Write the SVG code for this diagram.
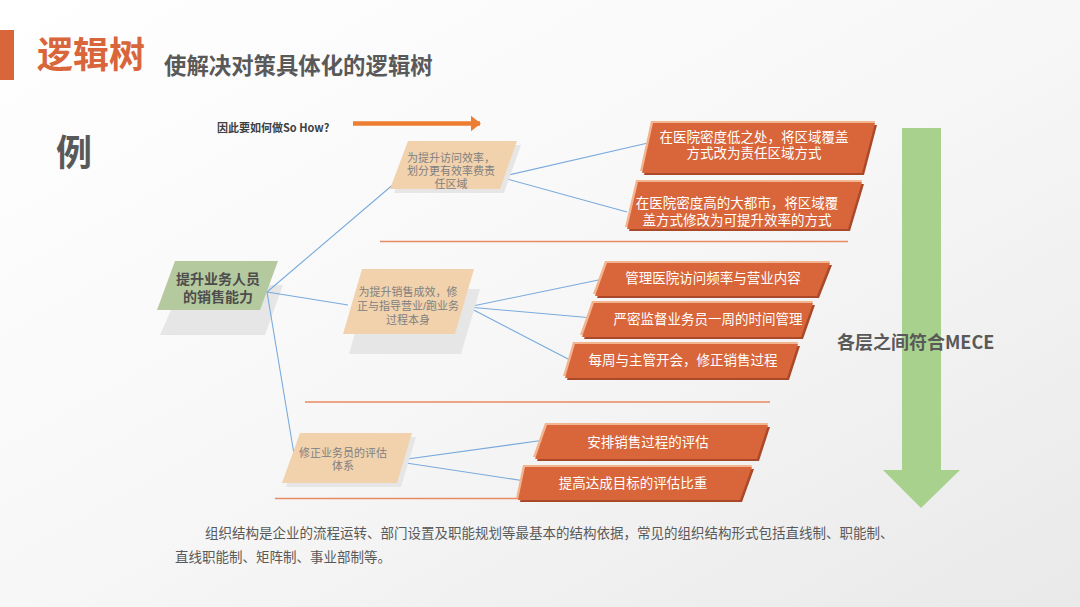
<svg xmlns="http://www.w3.org/2000/svg" width="1080" height="607" viewBox="0 0 1080 607">
<defs>
<linearGradient id="bg" x1="0" y1="0" x2="1" y2="1">
<stop offset="0" stop-color="#ffffff"/>
<stop offset="0.5" stop-color="#f7f7f7"/>
<stop offset="1" stop-color="#e9e9e9"/>
</linearGradient>
<marker id="ah" markerWidth="4" markerHeight="4" refX="2" refY="2" orient="auto" markerUnits="strokeWidth">
<path d="M0,0.3 L2.2,2 L0,3.7 Z" fill="#ed7d31"/>
</marker>
</defs>
<style>
.cjk{font-family:"Noto Sans CJK SC","Liberation Sans",sans-serif}
.ml{font-family:"Liberation Sans","Noto Sans CJK SC",sans-serif}
.l2{fill:#f1d2ad}
.sh{fill:#e6e6e6}
.l3{fill:#d8663a}
.l3hi{fill:#f2b58f}
.l3dk{fill:#a9492a}
.t2{font-size:11px;fill:#808080;text-anchor:middle}
.t3{font-size:13.5px;fill:#ffffff;text-anchor:middle}
.conn line{stroke:#79aadc;stroke-width:1.1}
.sep{stroke:#e88a62;stroke-width:1.6}
</style>
<rect width="1080" height="607" fill="url(#bg)"/>
<rect x="0" y="30" width="14" height="50" fill="#d9663a"/>
<text x="37" y="68" class="cjk" font-size="36" font-weight="bold" fill="#d9663a">逻辑树</text>
<text x="164" y="74" class="cjk" font-size="22.4" font-weight="bold" fill="#595959">使解决对策具体化的逻辑树</text>
<text x="56" y="166" class="cjk" font-size="36" font-weight="bold" fill="#595959">例</text>
<text x="217" y="132" class="cjk" font-size="11" font-weight="bold" fill="#404040">因此要如何做So How?</text>
<line x1="353" y1="123.5" x2="480" y2="123.5" stroke="#ed7d31" stroke-width="4.5" marker-end="url(#ah)"/>

<g id="separators">
<line class="sep" x1="380" y1="241.5" x2="848" y2="241.5"/>
<line class="sep" x1="305" y1="402" x2="770" y2="402"/>
<line class="sep" x1="275" y1="498.5" x2="740" y2="498.5"/>
</g>

<g id="mece">
<path d="M902,128 H941 V470 H960 L921,508 L883,470 H902 Z" fill="#a9d18e"/>
<text x="837" y="349" class="cjk" font-size="18" font-weight="bold" fill="#595959">各层之间符合MECE</text>
</g>

<g id="root">
<polygon class="sh" points="182,285 283,285 265,335 160,335"/>
<polygon points="175,261 278,261 260,310 157,310" fill="#b5c99f"/>
<text class="ml" x="218" y="284" font-size="14" font-weight="bold" fill="#4d4d4d" text-anchor="middle">提升业务人员<tspan x="218" dy="18">的销售能力</tspan></text>
</g>

<g class="conn" id="connectors">
<line x1="267" y1="292" x2="402" y2="177"/>
<line x1="267" y1="292" x2="348" y2="305"/>
<line x1="267" y1="292" x2="295" y2="460"/>
<line x1="500" y1="177" x2="648" y2="143"/>
<line x1="500" y1="177" x2="627" y2="212"/>
<line x1="468" y1="307" x2="613" y2="277"/>
<line x1="468" y1="307" x2="593" y2="318"/>
<line x1="468" y1="307" x2="570" y2="360"/>
<line x1="393" y1="461" x2="545" y2="440"/>
<line x1="393" y1="461" x2="525" y2="481"/>
</g>

<g id="n1">
<polygon class="sh" points="412,145 521,145 504,193 394,193"/>
<polygon class="l2" points="408,141 517,141 500,189 390,189"/>
<text class="ml t2" x="451" y="162">为提升访问效率，<tspan x="451" dy="13">划分更有效率费责</tspan><tspan x="451" dy="13">任区域</tspan></text>
</g>

<g id="n2">
<polygon class="sh" points="368,289 480,289 461,354 349,354"/>
<polygon class="l2" points="362,269 474,269 455,334 343,334"/>
<text class="ml t2" x="408" y="296" font-size="11.5">为提升销售成效，修<tspan x="408" dy="14">正与指导营业/跑业务</tspan><tspan x="408" dy="14">过程本身</tspan></text>
</g>

<g id="n3">
<polygon class="sh" points="304,437 416,437 401,487 286,487"/>
<polygon class="l2" points="300,433 412,433 397,483 282,483"/>
<text class="ml t2" x="343" y="457">修正业务员的评估<tspan x="343" dy="13">体系</tspan></text>
</g>

<g id="a1">
<polygon class="l3hi" points="651,121 875,121 862,171 640,171"/>
<polygon class="l3dk" points="655,125 877,125 864,175 644,175"/>
<polygon class="l3" points="653,123 875,123 862,173 642,173"/>
<text class="ml t3" x="754" y="142">在医院密度低之处，将区域覆盖<tspan x="754" dy="16">方式改为责任区域方式</tspan></text>
</g>

<g id="a2">
<polygon class="l3hi" points="636,180 862,180 848,227 625,227"/>
<polygon class="l3dk" points="640,184 864,184 850,231 629,231"/>
<polygon class="l3" points="638,182 862,182 848,229 627,229"/>
<text class="ml t3" x="737" y="208">在医院密度高的大都市，将区域覆<tspan x="737" dy="17">盖方式修改为可提升效率的方式</tspan></text>
</g>

<g id="b1">
<polygon class="l3hi" points="605,261 830,261 817,294 593,294"/>
<polygon class="l3dk" points="609,265 832,265 819,298 597,298"/>
<polygon class="l3" points="607,263 830,263 817,296 595,296"/>
<text class="cjk t3" x="713" y="283">管理医院访问频率与营业内容</text>
</g>

<g id="b2">
<polygon class="l3hi" points="592,301 813,301 801,335 580,335"/>
<polygon class="l3dk" points="596,305 815,305 803,339 584,339"/>
<polygon class="l3" points="594,303 813,303 801,337 582,337"/>
<text class="cjk t3" x="708" y="324">严密监督业务员一周的时间管理</text>
</g>

<g id="b3">
<polygon class="l3hi" points="573,342 798,342 787,376 563,376"/>
<polygon class="l3dk" points="577,346 800,346 789,380 567,380"/>
<polygon class="l3" points="575,344 798,344 787,378 565,378"/>
<text class="cjk t3" x="683" y="365">每周与主管开会，修正销售过程</text>
</g>

<g id="c1">
<polygon class="l3hi" points="545,423 768,423 757,457 533,457"/>
<polygon class="l3dk" points="549,427 770,427 759,461 537,461"/>
<polygon class="l3" points="547,425 768,425 757,459 535,459"/>
<text class="cjk t3" x="648" y="447">安排销售过程的评估</text>
</g>

<g id="c2">
<polygon class="l3hi" points="523,465 752,465 740,498 516,498"/>
<polygon class="l3dk" points="527,469 754,469 742,502 520,502"/>
<polygon class="l3" points="525,467 752,467 740,500 518,500"/>
<text class="cjk t3" x="633" y="488">提高达成目标的评估比重</text>
</g>

<text class="ml" x="205" y="538" font-size="13.5" fill="#595959">组织结构是企业的流程运转、部门设置及职能规划等最基本的结构依据，常见的组织结构形式包括直线制、职能制、<tspan x="175" dy="24">直线职能制、矩阵制、事业部制等。</tspan></text>
</svg>
